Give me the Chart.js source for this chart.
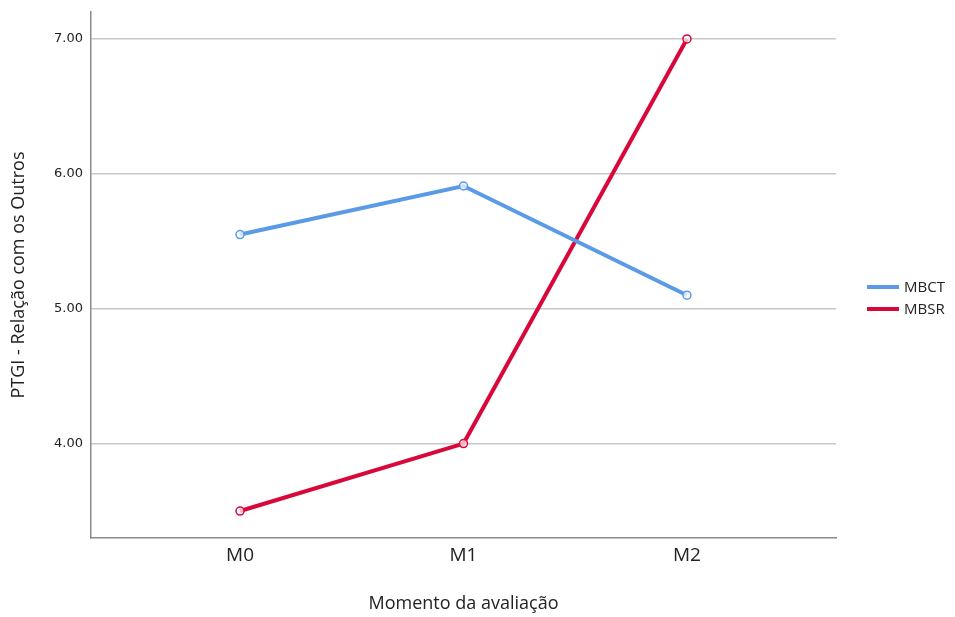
<!DOCTYPE html>
<html>
<head>
<meta charset="utf-8">
<script src="https://cdn.jsdelivr.net/npm/chart.js@4/dist/chart.umd.min.js"></script>
<style>
  html, body { margin: 0; padding: 0; background: #fff; }
  #wrap { width: 955px; height: 617px; }
</style>
</head>
<body>
<div id="wrap"><canvas id="chart" width="955" height="617"></canvas></div>
<script>
// data
const moments = ["M0", "M1", "M2"];
const mbct = [5.55, 5.91, 5.10];
const mbsr = [3.50, 4.00, 7.00];
const yTicks = [4, 5, 6, 7];

const blue = '#5A9AE6';
const red = '#D9083B';
const font = 'Open Sans';

const points = (vals) => vals.map((v, i) => ({ x: i, y: v }));

// legend drawn beside the plot, like the SPSS output
const sideLegend = {
    id: 'sideLegend',
    afterDraw(chart) {
        const c = chart.ctx;
        const items = chart.data.datasets;
        c.save();
        c.font = '15px "' + font + '"';
        c.textBaseline = 'middle';
        items.forEach((ds, i) => {
            const y = 287 + i * 22;
            c.strokeStyle = ds.borderColor;
            c.lineWidth = 4;
            c.beginPath();
            c.moveTo(867, y);
            c.lineTo(899, y);
            c.stroke();
            c.fillStyle = '#222';
            c.fillText(ds.label, 904, y + 1);
        });
        c.restore();
    }
};

new Chart(document.getElementById('chart'), {
    type: 'line',
    data: {
        datasets: [
            {
                label: 'MBCT',
                data: points(mbct),
                borderColor: blue,
                backgroundColor: blue,
                borderWidth: 4,
                pointRadius: 4,
                pointBorderWidth: 1.5,
                pointBackgroundColor: 'rgba(255,255,255,0.7)',
                pointBorderColor: blue,
            },
            {
                label: 'MBSR',
                data: points(mbsr),
                borderColor: red,
                backgroundColor: red,
                borderWidth: 4,
                pointRadius: 4,
                pointBorderWidth: 1.5,
                pointBackgroundColor: 'rgba(255,255,255,0.7)',
                pointBorderColor: red,
            }
        ]
    },
    plugins: [sideLegend],
    options: {
        responsive: false,
        animation: false,
        layout: { padding: { top: 12, right: 119, left: 0, bottom: 0 } },
        plugins: {
            legend: { display: false },
            tooltip: { enabled: false }
        },
        scales: {
            x: {
                type: 'linear',
                min: -0.667,
                max: 2.667,
                afterBuildTicks: (axis) => { axis.ticks = moments.map((_, i) => ({ value: i })); },
                afterFit: (axis) => { axis.height = 79; },
                ticks: {
                    callback: (v) => moments[v],
                    color: '#222',
                    font: { family: font, size: 19 },
                    padding: 6,
                    maxRotation: 0
                },
                grid: { display: false, drawTicks: false },
                border: { color: '#8a8a8a', width: 1.5 },
                title: {
                    display: true,
                    text: 'Momento da avaliação',
                    color: '#222',
                    font: { family: font, size: 18 },
                    padding: { top: 0, bottom: 2 }
                }
            },
            y: {
                min: 3.3,
                max: 7.2,
                afterBuildTicks: (axis) => { axis.ticks = yTicks.map(v => ({ value: v })); },
                afterFit: (axis) => {
                    axis.width = 91;
                    axis.paddingTop = 0;
                    axis.paddingBottom = 0;
                },
                ticks: {
                    callback: (v) => v.toFixed(2),
                    color: '#222',
                    font: { family: 'DejaVu Sans', size: 13 },
                    padding: 8
                },
                grid: { color: '#c8c8c8', lineWidth: 1.5, drawTicks: false },
                border: { color: '#8a8a8a', width: 1.5 },
                title: {
                    display: true,
                    text: 'PTGI - Relação com os Outros',
                    color: '#222',
                    font: { family: font, size: 18 },
                    padding: { top: 8, bottom: 0 }
                }
            }
        }
    }
});
</script>
</body>
</html>
